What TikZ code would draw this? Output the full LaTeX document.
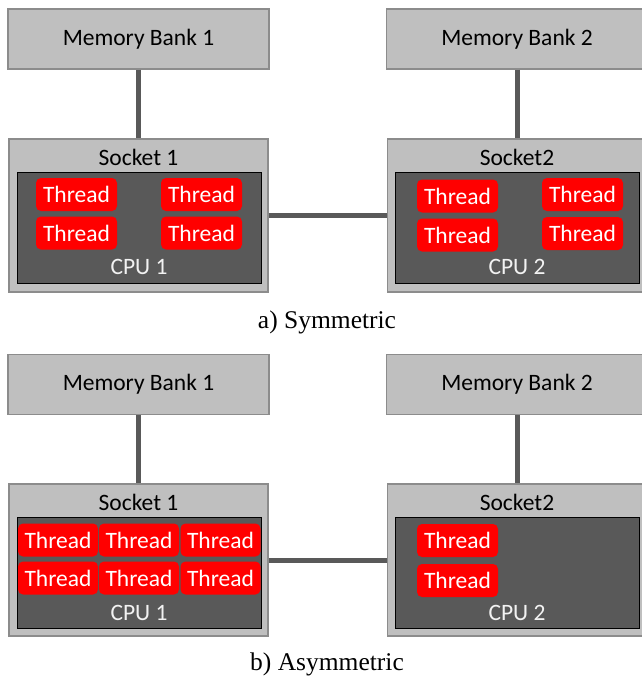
\documentclass[tikz,border=0pt]{standalone}
\usepackage{fontspec}
\newfontfamily\carl{Carlito}
\newfontfamily\capserif{Liberation Serif}
\definecolor{boxgray}{HTML}{BFBFBF}
\definecolor{boxedge}{HTML}{8C8C8C}
\definecolor{cpugray}{HTML}{595959}
\definecolor{linkgray}{HTML}{595959}
\definecolor{cpulabel}{HTML}{F2F2F2}
\tikzset{
  membox/.style={draw=boxedge, line width=1.2pt, fill=boxgray, minimum width=261pt, minimum height=60pt, inner sep=0pt, font=\carl\fontsize{23.5}{28}\selectfont},
  sockbox/.style={draw=boxedge, line width=1.2pt, fill=boxgray, minimum width=259pt, minimum height=153pt, inner sep=0pt},
  cpubox/.style={draw=black, line width=1pt, fill=cpugray, minimum width=244pt, minimum height=111pt, inner sep=0pt},
  thr/.style={fill=red, rounded corners=5pt, minimum width=81pt, minimum height=33pt, inner sep=0pt, text=white, font=\carl\fontsize{23.5}{28}\selectfont},
  sockl/.style={inner sep=0pt, text=black, font=\carl\fontsize{23.5}{28}\selectfont},
  cpul/.style={inner sep=0pt, text=cpulabel, font=\carl\fontsize{23.5}{28}\selectfont},
  capt/.style={inner sep=0pt, font=\capserif\fontsize{25.5}{30}\selectfont},
  link/.style={draw=linkgray, line width=5pt}
}
\begin{document}
\begin{tikzpicture}[x=1pt,y=-1pt]
\useasboundingbox (0,0) rectangle (642,681);
% ---------- a) Symmetric ----------
\node[membox] (amb1) at (138.5,39) {Memory Bank 1};
\node[membox] (amb2) at (517,39) {Memory Bank 2};
\node[sockbox] (as1) at (138.5,215.5) {};
\node[sockbox] (as2) at (517,215.5) {};
\draw[link] (amb1.south) -- (amb1.south |- as1.north);
\draw[link] (amb2.south) -- (amb2.south |- as2.north);
\draw[link] (as1.east) -- (as2.west);
\node[sockl] (as1l) at (138.5,157) {Socket 1};
\node[sockl] (as2l) at (517,157) {Socket2};
\node[cpubox] (ac1) at (139,227.5) {};
\node[cpubox] (ac2) at (517,227.5) {};
\node[cpul] (ac1l) at (139,267) {CPU 1};
\node[cpul] (ac2l) at (517,267) {CPU 2};
\node[thr] (at11) at (76.5,194.5) {Thread};
\node[thr] (at12) at (201.5,194.5) {Thread};
\node[thr] (at13) at (76.5,233) {Thread};
\node[thr] (at14) at (201.5,233) {Thread};
\node[thr] (at21) at (457.5,196) {Thread};
\node[thr] (at22) at (582.5,194.5) {Thread};
\node[thr] (at23) at (457.5,235) {Thread};
\node[thr] (at24) at (582.5,233.5) {Thread};
\node[capt] (capa) at (327,322) {a) Symmetric};
% ---------- b) Asymmetric ----------
\node[membox] (bmb1) at (138.5,384.5) {Memory Bank 1};
\node[membox] (bmb2) at (517,384.5) {Memory Bank 2};
\node[sockbox, minimum height=152pt] (bs1) at (138.5,560) {};
\node[sockbox, minimum height=152pt] (bs2) at (517,560) {};
\draw[link] (bmb1.south) -- (bmb1.south |- bs1.north);
\draw[link] (bmb2.south) -- (bmb2.south |- bs2.north);
\draw[link] (bs1.east) -- (bs2.west);
\node[sockl] (bs1l) at (138.5,502) {Socket 1};
\node[sockl] (bs2l) at (517,502) {Socket2};
\node[cpubox] (bc1) at (139,572.5) {};
\node[cpubox] (bc2) at (517,572.5) {};
\node[cpul] (bc1l) at (139,613) {CPU 1};
\node[cpul] (bc2l) at (517,613) {CPU 2};
\node[thr, minimum width=80pt] (bt11) at (58,540) {Thread};
\node[thr, minimum width=80pt] (bt12) at (139,540) {Thread};
\node[thr, minimum width=80pt] (bt13) at (220.5,540) {Thread};
\node[thr, minimum width=80pt] (bt14) at (58,578) {Thread};
\node[thr, minimum width=80pt] (bt15) at (139,578) {Thread};
\node[thr, minimum width=80pt] (bt16) at (220.5,578) {Thread};
\node[thr] (bt21) at (457.5,540.5) {Thread};
\node[thr] (bt22) at (457.5,580.5) {Thread};
\node[capt] (capb) at (327,664) {b) Asymmetric};
\end{tikzpicture}
\end{document}
